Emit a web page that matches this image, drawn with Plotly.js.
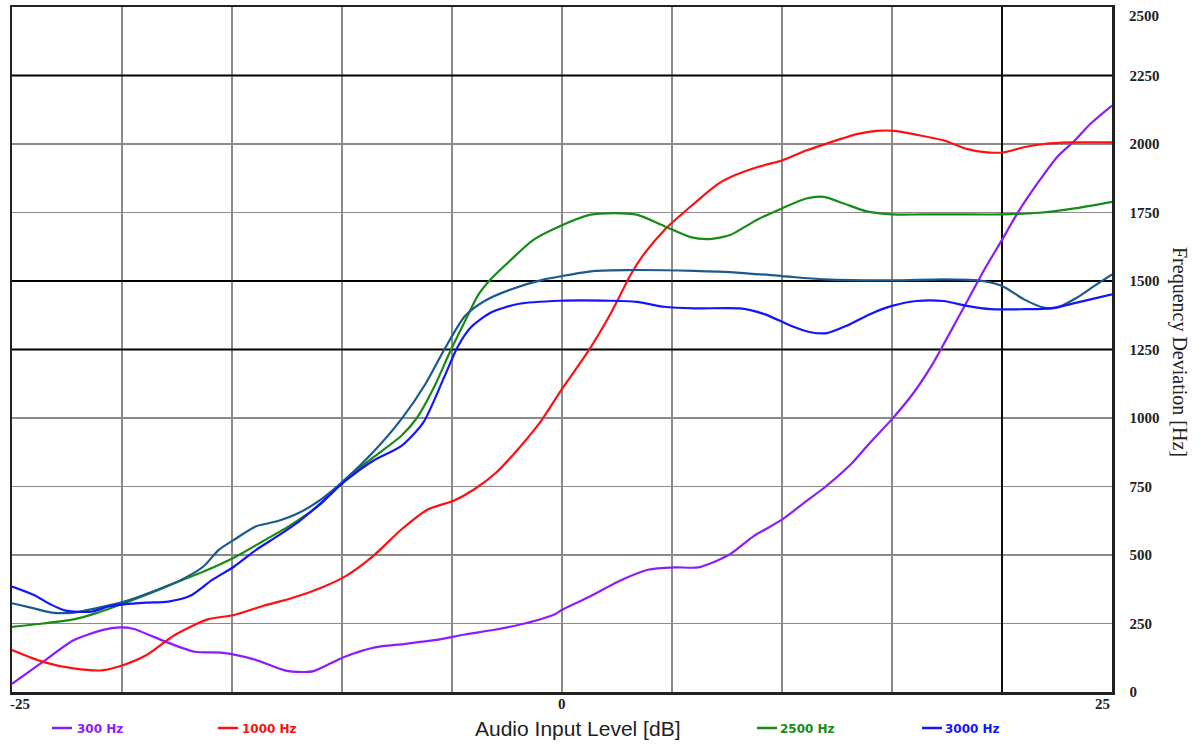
<!DOCTYPE html>
<html>
<head>
<meta charset="utf-8">
<script src="https://cdn.plot.ly/plotly-3.0.1.min.js"></script>
<style>html,body{margin:0;padding:0;background:#fff;}#chart{width:1201px;height:747px;}</style>
</head>
<body>
<div id="chart"></div>
<script>
// Series names (legend) and colours
const seriesNames = ['300 Hz', '1000 Hz', '2500 Hz', '3000 Hz'];

// 300 Hz (purple)
const x300 = [-25,-23.6,-22.2,-20.9,-20.1,-19.5,-18,-16.7,-15.4,-14,-12.6,-11.8,-11.3,-9.9,-8.5,-7.2,-5.8,-4.4,-3,-1.7,-0.3,0,1.1,2.8,3.9,5.1,6.2,7.6,8.7,10,11,12,13.2,14,15,16,16.8,17.4,18.3,19.2,20,20.7,21.6,22.5,23.3,24,25];
const y300 = [30,110,189,226,236,231,183,147,143,119,79,73,76,128,163,175,189,210,228,250,285,300,342,412,446,455,455,501,568,629,690,751,837,910,996,1094,1191,1277,1409,1542,1650,1747,1855,1952,2012,2072,2140];

// 1000 Hz (red)
const x1000 = [-25,-23.6,-22.2,-20.9,-20.1,-18.9,-17.6,-16.1,-14.9,-13.6,-12.3,-11,-9.85,-8.6,-7.3,-6.1,-4.9,-4,-3,-2,-1,0,0.6,1.2,2.1,2.5,3.1,3.7,4.7,5.85,6.7,7.2,7.65,8.9,10,11.1,12.2,13.4,14.3,15.1,16.1,17.4,18.4,19.2,20.1,21,21.9,23.1,25];
const y1000 = [153,110,86,79,94,134,208,265,281,314,342,379,422,495,593,666,699,739,800,886,984,1106,1175,1245,1365,1425,1520,1595,1690,1772,1830,1860,1879,1916,1940,1976,2006,2036,2048,2048,2034,2012,1982,1970,1970,1988,2000,2006,2006];

// 2500 Hz (green)
const x2500 = [-25,-23.6,-22.2,-21.2,-19.9,-18.6,-17.25,-16.1,-14.9,-13.6,-12.3,-11,-9.85,-8.6,-7.3,-6.6,-5.8,-5.1,-4.4,-3.8,-3.2,-2.3,-1.3,-0.1,1.3,2.4,3.4,4.65,5.85,6.7,7.65,8.85,10,11.1,11.9,12.8,13.9,15,16.4,18,20,21.7,23.3,25];
const y2500 = [238,250,265,287,324,364,409,446,491,550,611,684,776,855,935,1000,1115,1240,1355,1450,1510,1579,1650,1700,1742,1748,1742,1700,1660,1653,1668,1723,1765,1801,1807,1783,1753,1743,1743,1743,1743,1749,1765,1789];

// unlabelled curve (dark blue)
const xDark = [-25,-24,-23.2,-22.2,-21.2,-19.9,-18.6,-17.25,-16.3,-15.6,-14.9,-13.9,-12.95,-11.95,-10.95,-9.85,-8.6,-7.3,-6.2,-5.35,-4.4,-3.5,-2.3,-0.8,0,1.5,3,6,8.1,10,11.9,15,17.35,18.9,20,21,21.9,22.5,23.4,24.2,25];
const yDark = [324,305,290,290,305,330,367,412,458,519,556,605,623,654,703,776,874,996,1125,1250,1373,1428,1470,1506,1518,1537,1540,1537,1530,1518,1506,1502,1506,1502,1482,1433,1403,1403,1439,1482,1524];

// 3000 Hz (blue)
const x3000 = [-25,-24,-23.2,-22.56,-21.4,-20.6,-19.9,-18.9,-17.9,-16.9,-15.9,-14.9,-13.9,-12.95,-11.95,-10.95,-9.85,-8.6,-7.3,-6.3,-5.35,-4.74,-4.14,-3.23,-2,-0.1,2.2,3.4,4.65,6,8.1,9.2,10.4,11.3,12.05,12.95,14,15,16.1,17.35,18.4,19.5,21,22.2,23.4,25];
const y3000 = [385,354,318,297,293,312,320,326,330,351,409,458,519,568,623,690,770,843,898,984,1150,1260,1331,1385,1416,1428,1428,1424,1406,1400,1400,1379,1337,1313,1310,1337,1379,1409,1427,1427,1409,1397,1397,1400,1421,1451];

// Tick labels / grid
const xRange = [-25, 25];
const yRange = [0, 2500];
const xGridVals = [-25,-20,-15,-10,-5,0,5,10,15,20,25];
const xTickLabels = [{v: -25, t: '-25', anchor: 'left'}, {v: 0, t: '0', anchor: 'center'}, {v: 25, t: '25', anchor: 'right'}];
const yTickVals = [0,250,500,750,1000,1250,1500,1750,2000,2250];
const yTopLabel = 2500;
const darkY = [1250,1500,2250];
const darkX = [20];

const cPurple = '#8a1cff', cRed = '#ff1010', cGreen = '#168c16', cBlue = '#1414ff', cDark = '#1a5a8e';

function tr(x, y, color, name) {
  return {x: x, y: y, type: 'scatter', mode: 'lines', name: name,
    line: {color: color, width: 2.2, shape: 'spline', smoothing: 0.7},
    hoverinfo: 'skip', showlegend: false};
}
function gridTrace(x, y) {
  return {x: x, y: y, type: 'scatter', mode: 'lines', line: {color: '#000', width: 1.8},
    hoverinfo: 'skip', showlegend: false};
}

const data = [];
darkY.forEach(v => data.push(gridTrace(xRange, [v, v])));
darkX.forEach(v => data.push(gridTrace([v, v], yRange)));
data.push(
  tr(x300, y300, cPurple, seriesNames[0]),
  tr(x1000, y1000, cRed, seriesNames[1]),
  tr(x2500, y2500, cGreen, seriesNames[2]),
  tr(xDark, yDark, cDark, ''),
  tr(x3000, y3000, cBlue, seriesNames[3])
);

const L = 12, R = 1112, T = 7, B = 692;
const px = v => (v - L) / (R - L);
const py = v => (B - v) / (B - T);
const tickFont = {family: 'Liberation Serif, Times New Roman', size: 15, color: '#222', weight: 'bold'};

const shapes = [];
const legendItems = [
  {name: seriesNames[0], color: cPurple, sx: 52, tx: 75},
  {name: seriesNames[1], color: cRed, sx: 218, tx: 240},
  {name: seriesNames[2], color: cGreen, sx: 757, tx: 778},
  {name: seriesNames[3], color: cBlue, sx: 922, tx: 943}
];
const annotations = [];
legendItems.forEach(it => {
  shapes.push({type:'line', xref:'paper', yref:'paper', x0:px(it.sx), x1:px(it.sx+20), y0:py(728), y1:py(728), line:{color:it.color, width:2.5}});
  annotations.push({xref:'paper', yref:'paper', x:px(it.tx), y:py(728.5), xanchor:'left', yanchor:'middle', showarrow:false,
    text: it.name, font:{family:'DejaVu Sans', size:12, color:it.color, weight:'bold'}});
});
xTickLabels.forEach(t => annotations.push({xref:'x', yref:'paper', x:t.v, y:py(704), xanchor:t.anchor, yanchor:'middle', showarrow:false,
  xshift: t.anchor === 'left' ? -4 : 0, text:t.t, font:tickFont}));
annotations.push({xref:'paper', yref:'y', x:px(1127), y:yTopLabel, yshift:-9, xanchor:'left', yanchor:'middle', showarrow:false,
  text:String(yTopLabel), font:tickFont});
annotations.push({xref:'paper', yref:'paper', x:px(577), y:py(728), xanchor:'center', yanchor:'middle', showarrow:false,
  text:'Audio Input Level [dB]', font:{family:'Liberation Sans, Arial', size:21, color:'#222'}});
annotations.push({xref:'paper', yref:'paper', x:px(1179), y:py(352), xanchor:'center', yanchor:'middle', showarrow:false, textangle:90,
  text:'Frequency Deviation [Hz]', font:{family:'Liberation Serif, Times New Roman', size:20, color:'#222'}});

const layout = {
  width: 1201, height: 747,
  margin: {l: L, r: 1201 - R, t: T, b: 747 - B, pad: 0},
  paper_bgcolor: '#fff', plot_bgcolor: '#fff',
  showlegend: false,
  xaxis: {range: xRange, tickmode: 'array', tickvals: xGridVals, showticklabels: false,
    showgrid: true, gridcolor: '#8a8a8a', gridwidth: 1.5, zeroline: false,
    showline: true, linecolor: '#222', linewidth: 2.5, mirror: true, ticks: '', fixedrange: true},
  yaxis: {range: yRange, side: 'right', tickmode: 'array', tickvals: yTickVals.concat([yTopLabel]),
    ticktext: yTickVals.map(String).concat(['']),
    showgrid: true, gridcolor: '#8a8a8a', gridwidth: 1.5, zeroline: false,
    showline: true, linecolor: '#222', linewidth: 2.5, mirror: true, ticks: '',
    tickfont: tickFont, ticklabelstandoff: 12, fixedrange: true},
  shapes: shapes,
  annotations: annotations
};

Plotly.newPlot('chart', data, layout, {staticPlot: true, displayModeBar: false});
</script>
</body>
</html>
